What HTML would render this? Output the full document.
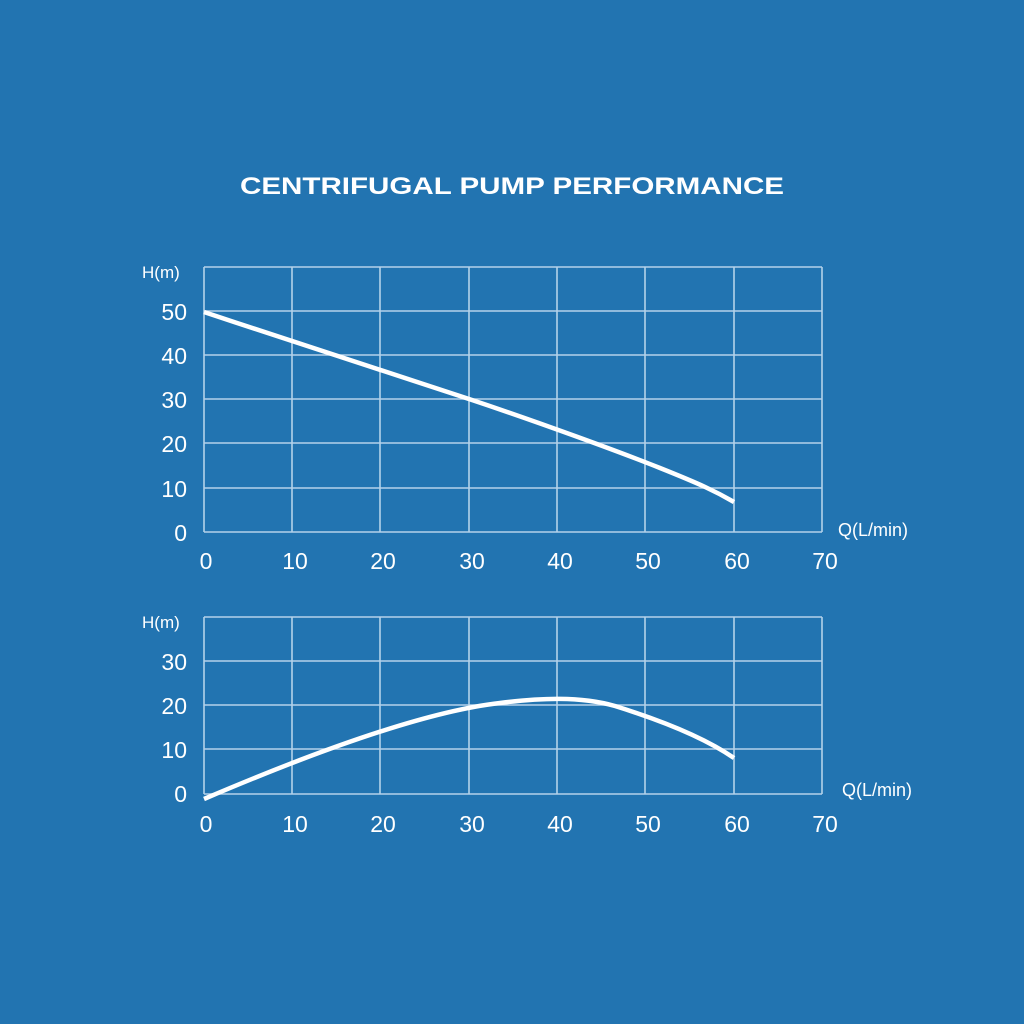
<!DOCTYPE html>
<html><head><style>
html,body{margin:0;padding:0;background:#2274b1;}
svg{display:block}
</style></head><body>
<svg width="1024" height="1024" viewBox="0 0 1024 1024" xmlns="http://www.w3.org/2000/svg">
<rect width="1024" height="1024" fill="#2274b1"/>
<text x="240" y="194" textLength="544" lengthAdjust="spacingAndGlyphs" fill="#fff" font-family="Liberation Sans, sans-serif" font-weight="bold" font-size="24">CENTRIFUGAL PUMP PERFORMANCE</text>
<g stroke="#b4d2ea" stroke-width="1.6" fill="none">
<path d="M204 267V532M292 267V532M380 267V532M469 267V532M557 267V532M645 267V532M734 267V532M822 267V532"/>
<path d="M204 267H822M204 311H822M204 355H822M204 399H822M204 443H822M204 488H822M204 532H822"/>
<path d="M204 617V794M292 617V794M380 617V794M469 617V794M557 617V794M645 617V794M734 617V794M822 617V794"/>
<path d="M204 617H822M204 661H822M204 705H822M204 749H822M204 794H822"/>
</g>
<g fill="#fff" font-family="Liberation Sans, DejaVu Sans, sans-serif">
<text x="142" y="278" font-size="17">H(m)</text>
<text x="142" y="628" font-size="17">H(m)</text>
<g font-size="23" text-anchor="end">
<text x="187" y="320">50</text><text x="187" y="364">40</text><text x="187" y="408">30</text><text x="187" y="452">20</text><text x="187" y="497">10</text><text x="187" y="541">0</text>
<text x="187" y="670">30</text><text x="187" y="714">20</text><text x="187" y="758">10</text><text x="187" y="802">0</text>
</g>
<g font-size="23" text-anchor="middle">
<text x="206" y="569">0</text><text x="295" y="569">10</text><text x="383" y="569">20</text><text x="472" y="569">30</text><text x="560" y="569">40</text><text x="648" y="569">50</text><text x="737" y="569">60</text><text x="825" y="569">70</text>
<text x="206" y="832">0</text><text x="295" y="832">10</text><text x="383" y="832">20</text><text x="472" y="832">30</text><text x="560" y="832">40</text><text x="648" y="832">50</text><text x="737" y="832">60</text><text x="825" y="832">70</text>
</g>
<text x="838" y="536" font-size="18">Q(L/min)</text>
<text x="842" y="796" font-size="18">Q(L/min)</text>
</g>
<g stroke="#fff" stroke-width="4.5" fill="none" stroke-linecap="butt">
<path d="M204 312 C 300 344, 400 376, 469 399 S 620 452, 660 468 S 715 491, 734 502"/>
<path d="M204 799 C 300 758, 420 712, 500 703 C 540 698, 580 696, 615 706 C 660 720, 705 738, 734 758"/>
</g>
</svg>
</body></html>
